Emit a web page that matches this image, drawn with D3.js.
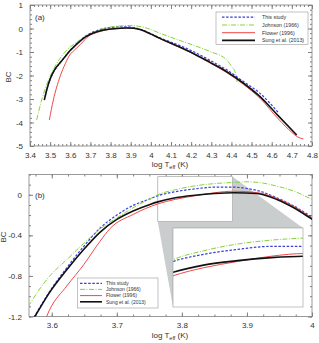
<!DOCTYPE html>
<html>
<head>
<meta charset="utf-8">
<script src="https://cdnjs.cloudflare.com/ajax/libs/d3/7.8.5/d3.min.js"></script>
<style>
body { margin: 0; background: #fff; }
svg { display: block; font-family: "Liberation Sans", Arial, sans-serif; }
</style>
</head>
<body>
<div id="chart"></div>
<script>

// series: log Teff vs bolometric correction
var seriesNames = ["This study", "Johnson (1966)", "Flower (1996)", "Sung et al. (2013)"];

var thisT  = [3.475, 3.49, 3.51, 3.53, 3.555, 3.577, 3.597, 3.623, 3.649, 3.674, 3.70, 3.725, 3.751, 3.763, 3.79, 3.82, 3.85, 3.88, 3.90, 3.92, 3.946, 3.972, 4.0, 4.045, 4.128, 4.211, 4.294, 4.377, 4.46, 4.542, 4.633];
var thisBC = [-2.90, -2.40, -1.98, -1.68, -1.40, -1.16, -0.95, -0.72, -0.51, -0.33, -0.20, -0.105, -0.04, -0.01, 0.03, 0.058, 0.075, 0.075, 0.062, 0.035, -0.03, -0.11, -0.22, -0.40, -0.67, -0.98, -1.36, -1.76, -2.26, -2.76, -3.58];

var johnT  = [3.433, 3.458, 3.499, 3.525, 3.549, 3.566, 3.597, 3.623, 3.649, 3.674, 3.70, 3.725, 3.751, 3.763, 3.79, 3.82, 3.85, 3.88, 3.90, 3.925, 3.946, 3.972, 4.0, 4.045, 4.128, 4.211, 4.294, 4.377, 4.401, 4.418, 4.429];
var johnBC = [-3.89, -3.04, -2.05, -1.60, -1.27, -1.08, -0.80, -0.64, -0.48, -0.34, -0.227, -0.128, -0.04, 0.0, 0.05, 0.088, 0.11, 0.122, 0.128, 0.115, 0.085, 0.036, -0.046, -0.20, -0.46, -0.71, -0.98, -1.34, -1.62, -1.84, -2.31];

var flowerT  = [3.496, 3.516, 3.549, 3.575, 3.597, 3.623, 3.649, 3.674, 3.69, 3.725, 3.763, 3.79, 3.82, 3.85, 3.88, 3.915, 3.946, 3.972, 4.0, 4.045, 4.128, 4.211, 4.294, 4.377, 4.46, 4.542, 4.633, 4.70, 4.73, 4.757];
var flowerBC = [-3.89, -3.04, -2.05, -1.50, -1.13, -0.90, -0.69, -0.46, -0.33, -0.194, -0.09, -0.045, -0.01, 0.02, 0.035, 0.022, -0.035, -0.115, -0.23, -0.43, -0.75, -1.08, -1.47, -1.88, -2.38, -2.97, -3.85, -4.42, -4.62, -4.70];

var sungT  = [3.471, 3.485, 3.50, 3.52, 3.55, 3.574, 3.597, 3.623, 3.649, 3.674, 3.70, 3.725, 3.751, 3.763, 3.79, 3.82, 3.85, 3.88, 3.915, 3.946, 3.972, 4.0, 4.045, 4.128, 4.211, 4.294, 4.377, 4.46, 4.542, 4.633, 4.724];
var sungBC = [-3.05, -2.55, -2.15, -1.78, -1.45, -1.20, -0.96, -0.74, -0.54, -0.37, -0.243, -0.16, -0.095, -0.07, -0.03, -0.005, 0.012, 0.02, 0.012, -0.046, -0.128, -0.24, -0.42, -0.73, -1.06, -1.44, -1.84, -2.33, -2.90, -3.72, -4.53];

// tick labels
var xTicksA = [3.4, 3.5, 3.6, 3.7, 3.8, 3.9, 4, 4.1, 4.2, 4.3, 4.4, 4.5, 4.6, 4.7, 4.8];
var yTicksA = [1, 0, -1, -2, -3, -4, -5];
var xTicksB = [3.6, 3.7, 3.8, 3.9, 4];
var yTicksB = [0, -0.4, -0.8, -1.2];

// zoom window shown in the inset of panel (b)
var zoomT  = [3.763, 3.878];
var zoomBC = [-0.265, 0.178];

var width = 319;
var height = 343;

var styles = [
    { color: "#3a3ed6", width: 1.2, dash: "2.5,1.6" },
    { color: "#88d23e", width: 1.0, dash: "5,1.5,1,1.5" },
    { color: "#f24848", width: 1.0, dash: null },
    { color: "#111111", width: 1.6, dash: null }
];

var series = [
    { name: seriesNames[0], t: thisT,   bc: thisBC },
    { name: seriesNames[1], t: johnT,   bc: johnBC },
    { name: seriesNames[2], t: flowerT, bc: flowerBC },
    { name: seriesNames[3], t: sungT,   bc: sungBC }
];

function points(s) {
    return s.t.map(function(t, i) { return [t, s.bc[i]]; });
}

//
// SVG
//
var svg = d3.select("#chart").append("svg")
    .attr("width", width)
    .attr("height", height);

var defs = svg.append("defs");

//
// Scales
//
var xa = d3.scaleLinear().domain([3.4, 4.8]).range([30, 312]);
var ya = d3.scaleLinear().domain([-5, 1]).range([146, 5]);

var xb = d3.scaleLinear().domain([3.565, 4.0]).range([29, 312]);
var yb = d3.scaleLinear().domain([-1.2, 0.2]).range([316.5, 174.5]);

var inset = { x0: 173, x1: 303, y0: 228, y1: 307 };
var xi = d3.scaleLinear().domain(zoomT).range([inset.x0, inset.x1]);
var yi = d3.scaleLinear().domain(zoomBC).range([inset.y1, inset.y0]);

function clip(id, x0, y0, x1, y1) {
    defs.append("clipPath").attr("id", id)
        .append("rect")
        .attr("x", x0).attr("y", y0)
        .attr("width", x1 - x0).attr("height", y1 - y0);
}
clip("clipA", xa.range()[0], ya.range()[1], xa.range()[1], ya.range()[0]);
clip("clipB", xb.range()[0], yb.range()[1], xb.range()[1], yb.range()[0]);
clip("clipI", inset.x0, inset.y0, inset.x1, inset.y1);

//
// Frame with inward ticks on all four sides
//
function styleAxis(g) {
    g.attr("font-size", 8).attr("font-family", null).attr("color", "#808080");
    g.selectAll("text").attr("fill", "#333");
    g.select(".domain").remove();
}

function frame(x, y, xMajor, xMinor, yMajor, yMinor, yPad) {
    var left = x.range()[0], right = x.range()[1];
    var bottom = y.range()[0], top = y.range()[1];
    var g = svg.append("g");
    var label = function(d) { return String(d); };

    g.append("g").attr("transform", "translate(0," + bottom + ")")
        .call(d3.axisBottom(x).tickValues(xMinor).tickSize(-2).tickFormat("")).call(styleAxis);
    g.append("g").attr("transform", "translate(0," + bottom + ")")
        .call(d3.axisBottom(x).tickValues(xMajor).tickSize(-4).tickPadding(6).tickFormat(label)).call(styleAxis);
    g.append("g").attr("transform", "translate(0," + top + ")")
        .call(d3.axisTop(x).tickValues(xMinor).tickSize(-2).tickFormat("")).call(styleAxis);
    g.append("g").attr("transform", "translate(0," + top + ")")
        .call(d3.axisTop(x).tickValues(xMajor).tickSize(-4).tickFormat("")).call(styleAxis);

    g.append("g").attr("transform", "translate(" + left + ",0)")
        .call(d3.axisLeft(y).tickValues(yMinor).tickSize(-2).tickFormat("")).call(styleAxis);
    g.append("g").attr("transform", "translate(" + left + ",0)")
        .call(d3.axisLeft(y).tickValues(yMajor).tickSize(-4).tickPadding(yPad).tickFormat(label)).call(styleAxis);
    g.append("g").attr("transform", "translate(" + right + ",0)")
        .call(d3.axisRight(y).tickValues(yMinor).tickSize(-2).tickFormat("")).call(styleAxis);
    g.append("g").attr("transform", "translate(" + right + ",0)")
        .call(d3.axisRight(y).tickValues(yMajor).tickSize(-4).tickFormat("")).call(styleAxis);

    g.append("rect")
        .attr("x", left).attr("y", top)
        .attr("width", right - left).attr("height", bottom - top)
        .attr("fill", "none").attr("stroke", "#808080").attr("stroke-width", 0.8);
}

function axisTitles(cx, baseline, bcX, bcY) {
    var t = svg.append("text")
        .attr("x", cx).attr("y", baseline)
        .attr("text-anchor", "middle")
        .attr("font-size", 8).attr("fill", "#333");
    t.append("tspan").text("log T");
    t.append("tspan").attr("font-size", 5.5).attr("dy", 1.8).text("eff");
    t.append("tspan").attr("dy", -1.8).text(" (K)");

    svg.append("text")
        .attr("transform", "translate(" + bcX + "," + bcY + ") rotate(-90)")
        .attr("text-anchor", "middle")
        .attr("font-size", 8).attr("fill", "#333")
        .text("BC");
}

function curves(g, x, y, clipId) {
    var line = d3.line()
        .x(function(d) { return x(d[0]); })
        .y(function(d) { return y(d[1]); })
        .curve(d3.curveMonotoneX);
    var cg = g.append("g").attr("clip-path", "url(#" + clipId + ")");
    series.forEach(function(s, i) {
        cg.append("path")
            .datum(points(s))
            .attr("fill", "none")
            .attr("stroke", styles[i].color)
            .attr("stroke-width", styles[i].width)
            .attr("stroke-dasharray", styles[i].dash)
            .attr("d", line);
    });
}

function legend(x0, y0, x1, y1, rows, lineX0, lineX1, textX, fontSize) {
    var g = svg.append("g");
    g.append("rect")
        .attr("x", x0).attr("y", y0)
        .attr("width", x1 - x0).attr("height", y1 - y0)
        .attr("fill", "#fff").attr("stroke", "#999").attr("stroke-width", 0.6);
    series.forEach(function(s, i) {
        g.append("line")
            .attr("x1", lineX0).attr("x2", lineX1)
            .attr("y1", rows[i]).attr("y2", rows[i])
            .attr("stroke", styles[i].color)
            .attr("stroke-width", styles[i].width)
            .attr("stroke-dasharray", styles[i].dash);
        g.append("text")
            .attr("x", textX).attr("y", rows[i])
            .attr("dy", "0.35em")
            .attr("font-size", fontSize).attr("fill", "#333")
            .text(s.name);
    });
}

//
// Panel (a)
//
frame(xa, ya, xTicksA, d3.range(3.4, 4.8001, 0.02), yTicksA, d3.range(-5, 1.001, 0.2), 7);
curves(svg, xa, ya, "clipA");
legend(216, 12, 308, 44.5, [17.2, 25, 32.7, 40.4], 222, 255, 262, 5.3);
svg.append("text").attr("x", 35).attr("y", 19.5)
    .attr("font-size", 8).attr("fill", "#333").text("(a)");
axisTitles(170, 167, 11, 77);

//
// Panel (b)
//
frame(xb, yb, xTicksB, d3.range(3.575, 4.0001, 0.025), yTicksB, d3.range(-1.2, 0.2001, 0.1), 7);

// zoom connector: gray hull between the zoom window and the inset
var sx0 = xb(zoomT[0]), sx1 = xb(zoomT[1]);
var sy0 = yb(zoomBC[1]), sy1 = yb(zoomBC[0]);
svg.append("path")
    .attr("d", d3.line()([
        [sx0, sy0], [sx1, sy0], [inset.x1, inset.y0],
        [inset.x1, inset.y1], [inset.x0, inset.y1], [sx0, sy1]
    ]) + "Z")
    .attr("fill", "#c9cdcd");
svg.append("rect")
    .attr("x", sx0).attr("y", sy0)
    .attr("width", sx1 - sx0).attr("height", sy1 - sy0)
    .attr("fill", "#fff").attr("stroke", "#9a9a9a").attr("stroke-width", 0.6);

curves(svg, xb, yb, "clipB");
legend(77.5, 278, 158, 308, [283.3, 289.4, 295.6, 301.8], 80, 102, 106, 5);
svg.append("text").attr("x", 35).attr("y", 198)
    .attr("font-size", 8).attr("fill", "#333").text("(b)");
axisTitles(170, 338, 6, 237);

// inset
var ig = svg.append("g");
ig.append("rect")
    .attr("x", inset.x0).attr("y", inset.y0)
    .attr("width", inset.x1 - inset.x0).attr("height", inset.y1 - inset.y0)
    .attr("fill", "#fff");
curves(ig, xi, yi, "clipI");
ig.append("rect")
    .attr("x", inset.x0).attr("y", inset.y0)
    .attr("width", inset.x1 - inset.x0).attr("height", inset.y1 - inset.y0)
    .attr("fill", "none").attr("stroke", "#9a9a9a").attr("stroke-width", 0.6);

</script>
</body>
</html>
